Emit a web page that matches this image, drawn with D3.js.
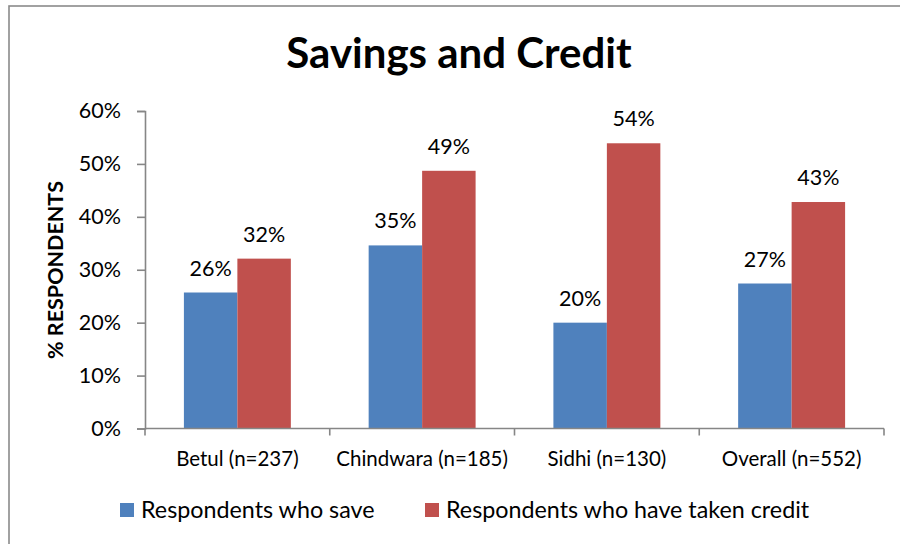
<!DOCTYPE html>
<html><head><meta charset="utf-8">
<script src="https://cdn.jsdelivr.net/npm/d3@7"></script>
<style>body{margin:0;background:#fff;} svg{display:block;font-family:Lato, "Open Sans", sans-serif;}</style>
</head><body>
<svg id="c" width="900" height="544"></svg>
<script>
const title = "Savings and Credit";
const yTitle = "% RESPONDENTS";
const categories = ["Betul (n=237)", "Chindwara (n=185)", "Sidhi (n=130)", "Overall (n=552)"];
const seriesNames = ["Respondents who save", "Respondents who have taken credit"];
const saveValues = [25.7, 34.6, 20.0, 27.4];
const creditValues = [32.1, 48.7, 53.9, 42.8];
const yTicks = [0, 10, 20, 30, 40, 50, 60];
const colors = ["#4F81BD", "#C0504D"];

const svg = d3.select("#c");
svg.append("rect").attr("x", 9).attr("y", 6).attr("width", 900).attr("height", 600)
  .attr("fill", "none").attr("stroke", "#8a8a8a").attr("stroke-width", 1.6);

const plot = {left: 145, right: 884, top: 111, bottom: 428.5};
const x0 = d3.scaleBand().domain(categories).range([plot.left, plot.right]).paddingInner(0).paddingOuter(0);
const inner = d3.scaleBand().domain([0, 1]).range([0, x0.bandwidth()]).paddingInner(0).paddingOuter(0.75 * 0.97);
const y = d3.scaleLinear().domain([0, 60]).range([plot.bottom, plot.top]);

svg.append("text").attr("x", 459).attr("y", 68).attr("text-anchor", "middle")
  .attr("font-weight", "bold").attr("font-size", 42).attr("fill", "#000").text(title);

// y axis
const yAxis = svg.append("g").attr("transform", `translate(${plot.left},0)`)
  .call(d3.axisLeft(y).tickValues(yTicks).tickFormat(d => d + "%").tickSize(8).tickPadding(16));
yAxis.selectAll(".domain").attr("stroke", "#868686").attr("stroke-width", 1.6);
yAxis.selectAll(".tick line").attr("stroke", "#868686").attr("stroke-width", 1.6);
yAxis.selectAll(".tick text").attr("font-size", 21.5).attr("fill", "#000").attr("font-family", "Lato");

svg.append("text").attr("transform", `translate(63,270) rotate(-90)`).attr("text-anchor", "middle")
  .attr("font-weight", "bold").attr("font-size", 21.5).attr("fill", "#000").text(yTitle);

// bars
const data = categories.map((c, i) => ({c, v: [saveValues[i], creditValues[i]]}));
const groups = svg.append("g").selectAll("g").data(data).join("g")
  .attr("transform", d => `translate(${x0(d.c)},0)`);
groups.selectAll("rect").data(d => d.v.map((v, k) => ({v, k}))).join("rect")
  .attr("x", d => inner(d.k)).attr("width", inner.bandwidth())
  .attr("y", d => y(d.v)).attr("height", d => plot.bottom - y(d.v))
  .attr("fill", d => colors[d.k]);
groups.selectAll("text").data(d => d.v.map((v, k) => ({v, k}))).join("text")
  .attr("x", d => inner(d.k) + inner.bandwidth() / 2).attr("y", d => y(d.v) - 17)
  .attr("text-anchor", "middle").attr("font-size", 21.5).attr("fill", "#000")
  .text(d => Math.round(d.v) + "%");

// x axis
const xAxisG = svg.append("g").attr("transform", `translate(0,${plot.bottom})`);
xAxisG.append("line").attr("x1", plot.left).attr("x2", plot.right).attr("stroke", "#868686").attr("stroke-width", 1.6);
const bounds = categories.map(c => x0(c)).concat([plot.right]);
xAxisG.selectAll("line.t").data(bounds).join("line").attr("class", "t")
  .attr("x1", d => d).attr("x2", d => d).attr("y1", 0).attr("y2", 7)
  .attr("stroke", "#868686").attr("stroke-width", 1.6);
xAxisG.selectAll("text").data(categories).join("text")
  .attr("x", d => x0(d) + x0.bandwidth() / 2).attr("y", 37)
  .attr("text-anchor", "middle").attr("font-size", 20.5).attr("fill", "#000").text(d => d);

// legend
const legendX = [120, 425];
const lg = svg.append("g").selectAll("g").data(seriesNames).join("g")
  .attr("transform", (d, i) => `translate(${legendX[i]},503)`);
lg.append("rect").attr("width", 14).attr("height", 14).attr("fill", (d, i) => colors[i]);
lg.append("text").attr("x", 21).attr("y", 14.5).attr("font-size", 23.3).attr("fill", "#000").text(d => d);
</script>
</body></html>
